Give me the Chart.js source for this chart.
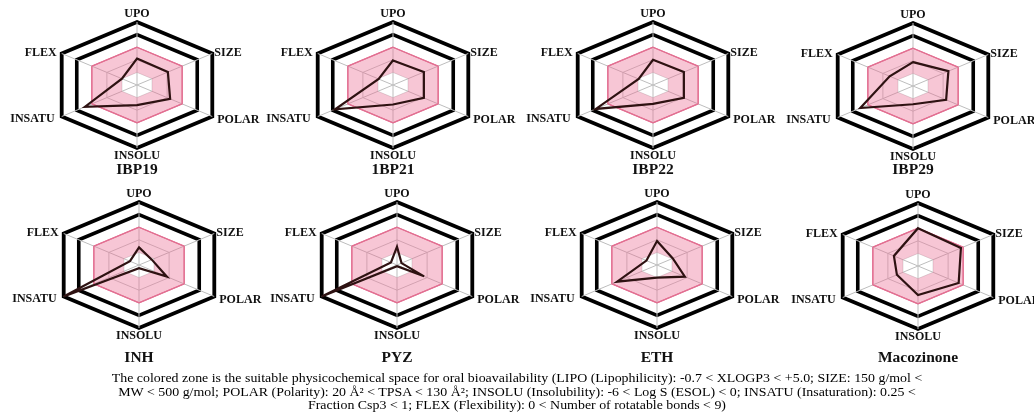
<!DOCTYPE html>
<html><head><meta charset="utf-8">
<script src="https://cdn.jsdelivr.net/npm/chart.js@4.4.0/dist/chart.umd.min.js"></script>
<style>
html,body{margin:0;padding:0;background:#fff;}
#wrap{position:relative;width:1034px;height:413px;overflow:hidden;background:#fff;}
canvas.r{position:absolute;left:0;top:0;}
#cap{position:absolute;left:0;top:371px;width:1034px;text-align:center;font-family:'Liberation Serif','Times New Roman',serif;font-size:13px;line-height:13.5px;color:#000;white-space:nowrap;transform:scaleX(1.07);transform-origin:517px 0;}
</style></head><body>
<div id="wrap">
<div id="cap">The colored zone is the suitable physicochemical space for oral bioavailability (LIPO (Lipophilicity): -0.7 &lt; XLOGP3 &lt; +5.0; SIZE: 150 g/mol &lt;<br>MW &lt; 500 g/mol; POLAR (Polarity): 20 Å² &lt; TPSA &lt; 130 Å²; INSOLU (Insolubility): -6 &lt; Log S (ESOL) &lt; 0; INSATU (Insaturation): 0.25 &lt;<br>Fraction Csp3 &lt; 1; FLEX (Flexibility): 0 &lt; Number of rotatable bonds &lt; 9)</div>
</div>
<script>
// ---- data ----
const axisLabels = ['UPO', 'SIZE', 'POLAR', 'INSOLU', 'INSATU', 'FLEX'];
const compoundNames = ['IBP19', '1BP21', 'IBP22', 'IBP29', 'INH', 'PYZ', 'ETH', 'Macozinone'];
const ibp19 = [2.1, 2.05, 2.2, 1.6, 3.45, 1.0];
const ibp21 = [1.95, 2.05, 2.05, 1.55, 3.85, 0.95];
const ibp22 = [2.0, 2.05, 2.05, 1.5, 3.8, 0.95];
const ibp29 = [1.9, 2.35, 2.2, 1.45, 3.5, 1.55];
const inh = [1.4, 0.85, 1.85, 0.25, 5.0, 0.6];
const pyz = [1.45, 0.3, 1.8, 0.1, 5.0, 0.4];
const eth = [1.9, 1.05, 1.85, 1.0, 2.65, 0.7];
const macozinone = [3.0, 2.85, 2.7, 2.3, 1.4, 1.6];
const zoneUpper = [3, 3, 3, 3, 3, 3];
const zoneLower = [1, 1, 1, 1, 1, 1];
const scaleMin = 0, scaleMax = 5, scaleStep = 1;
const seriesList = [ibp19, ibp21, ibp22, ibp29, inh, pyz, eth, macozinone];

// ---- layout ----
const centers = [
  {x: 137, y: 85, ty: 170}, {x: 393, y: 85, ty: 170}, {x: 653, y: 85, ty: 170}, {x: 913, y: 86, ty: 170},
  {x: 139, y: 265, ty: 358}, {x: 397, y: 265, ty: 358}, {x: 657, y: 265, ty: 358}, {x: 918, y: 266, ty: 358}
];
const RADIUS = 63, STRETCH = 1.38;
const ringColors = ['rgba(0,0,0,0)', '#dcdcdc', '#c4c4c4', 'rgb(226,112,146)', '#000', '#000'];
const ringWidths = [0, 1, 1, 1.2, 3.6, 3.8];
const labelOffsets = [
  {align: 'center', dx: 0, dy: -8},
  {align: 'left', dx: 2, dy: -1},
  {align: 'left', dx: 5, dy: 3},
  {align: 'center', dx: 0, dy: 8},
  {align: 'right', dx: -7, dy: 2},
  {align: 'right', dx: -5, dy: -1}
];

class StretchRadialScale extends Chart.RadialLinearScale {
  static id = 'stretchRadial';
  fit() {
    super.fit();
    const o = this.options;
    this.xCenter = o.cxPx; this.yCenter = o.cyPx; this.drawingArea = o.rPx;
  }
  getPointPosition(index, distance, additionalAngle = 0) {
    const p = super.getPointPosition(index, distance, additionalAngle);
    return {x: this.xCenter + (p.x - this.xCenter) * this.options.stretchX, y: p.y, angle: p.angle};
  }
}
Chart.register(StretchRadialScale);

const axisLabelPlugin = {
  id: 'axisLabelPlugin',
  afterDraw(chart, args, opts) {
    const s = chart.scales.r; const ctx = chart.ctx;
    ctx.save();
    ctx.fillStyle = '#111';
    ctx.textBaseline = 'middle';
    ctx.font = 'bold 12px "Liberation Serif"';
    axisLabels.forEach((t, i) => {
      const v = s.getPointPosition(i, s.drawingArea);
      const off = labelOffsets[i];
      ctx.textAlign = off.align;
      ctx.fillText(t, v.x + off.dx, v.y + off.dy);
    });
    ctx.font = 'bold 15.5px "Liberation Serif"';
    ctx.textAlign = 'center';
    ctx.fillText(opts.title, s.xCenter, opts.titleY);
    ctx.restore();
  }
};

const wrap = document.getElementById('wrap');
seriesList.forEach((vals, k) => {
  const cv = document.createElement('canvas');
  cv.className = 'r'; cv.width = 1034; cv.height = 413;
  cv.style.width = '1034px'; cv.style.height = '413px';
  wrap.insertBefore(cv, wrap.firstChild);
  const c = centers[k];
  new Chart(cv, {
    type: 'radar',
    data: {
      labels: axisLabels,
      datasets: [
        {data: vals, borderColor: '#2e1212', borderWidth: 2.2, pointRadius: 0, fill: false, backgroundColor: 'rgba(0,0,0,0)'},
        {data: zoneUpper, borderColor: 'rgb(226,112,146)', borderWidth: 1.2, backgroundColor: 'rgba(233,105,145,0.38)', fill: 2, pointRadius: 0},
        {data: zoneLower, borderColor: 'rgba(0,0,0,0)', borderWidth: 0, pointRadius: 0, fill: false, backgroundColor: 'rgba(0,0,0,0)'}
      ]
    },
    options: {
      responsive: false, animation: false, devicePixelRatio: 1, events: [],
      layout: {padding: 0},
      plugins: {legend: {display: false}, tooltip: {enabled: false},
        axisLabelPlugin: {title: compoundNames[k], titleY: c.ty}},
      scales: {
        r: {
          type: 'stretchRadial', cxPx: c.x, cyPx: c.y, rPx: RADIUS, stretchX: STRETCH,
          min: scaleMin, max: scaleMax,
          ticks: {display: false, stepSize: scaleStep},
          pointLabels: {display: false},
          angleLines: {display: true, color: '#bdbdbd', lineWidth: 1},
          grid: {color: (ctx) => ringColors[ctx.index], lineWidth: (ctx) => ringWidths[ctx.index]}
        }
      }
    },
    plugins: [axisLabelPlugin]
  });
});
</script>
</body></html>
